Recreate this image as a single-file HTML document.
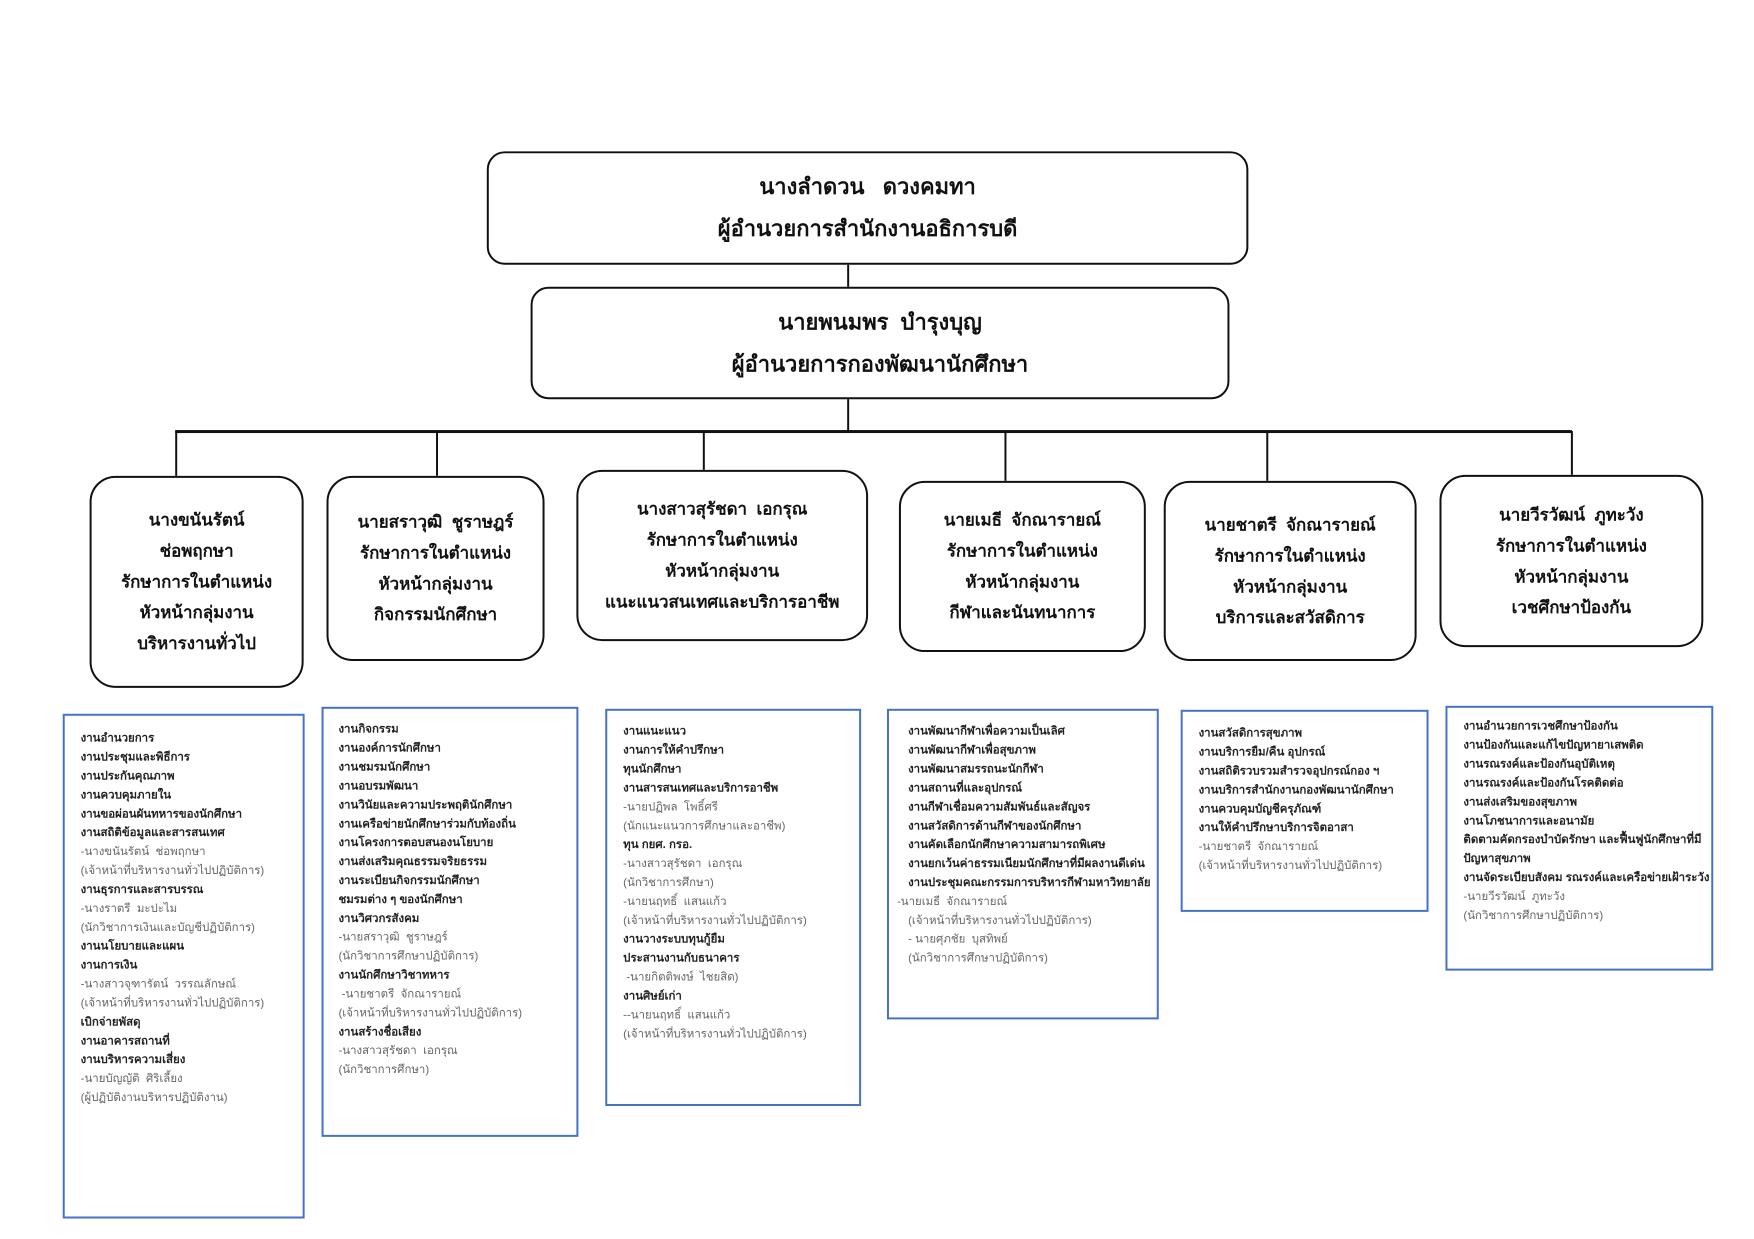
<!DOCTYPE html>
<html><head><meta charset="utf-8"><style>
body{margin:0;width:1754px;height:1239px;background:#fff;position:relative;overflow:hidden;font-family:"Liberation Sans","Noto Sans CJK SC",sans-serif;}
#w{position:absolute;left:0;top:0;width:1754px;height:1239px;transform:scale(0.9955);transform-origin:0 0;}
.n{position:absolute;border:2.5px solid #111;border-radius:26px;box-sizing:border-box;display:flex;flex-direction:column;justify-content:center;align-items:center;text-align:center;font-weight:bold;color:#111;}
.top{font-size:22px;line-height:42px;border-radius:18px;}
.s{font-size:17px;line-height:31px;}
.l{position:absolute;background:#111;}
.b{position:absolute;border:2px solid #4472c4;box-sizing:border-box;padding:14px 0 0 14px;font-size:11.5px;line-height:19px;color:#222;}
.b div{white-space:nowrap;font-weight:bold;}
.b .g{font-weight:normal;color:#666;}
</style></head><body><div id="w">
<div class="n top" style="left:489px;top:152px;width:765px;height:114px;"><div>นางลำดวน &nbsp; ดวงคมทา</div><div>ผู้อำนวยการสำนักงานอธิการบดี</div></div>
<div class="n top" style="left:533px;top:288px;width:702px;height:113px;"><div>นายพนมพร &nbsp;บำรุงบุญ</div><div>ผู้อำนวยการกองพัฒนานักศึกษา</div></div>
<div class="l" style="left:851px;top:266px;width:2px;height:22px;"></div>
<div class="l" style="left:851px;top:401px;width:2px;height:32px;"></div>
<div class="l" style="left:176px;top:432px;width:1403px;height:3px;"></div>
<div class="l" style="left:176px;top:433px;width:2px;height:45px;"></div>
<div class="l" style="left:438px;top:433px;width:2px;height:45px;"></div>
<div class="l" style="left:706px;top:433px;width:2px;height:39px;"></div>
<div class="l" style="left:1009px;top:433px;width:2px;height:50px;"></div>
<div class="l" style="left:1272px;top:433px;width:2px;height:50px;"></div>
<div class="l" style="left:1578px;top:433px;width:2px;height:44px;"></div>

<div class="n s" style="left:90px;top:478px;width:215px;height:213px;"><div>นางขนันรัตน์</div><div>ช่อพฤกษา</div><div>รักษาการในตำแหน่ง</div><div>หัวหน้ากลุ่มงาน</div><div>บริหารงานทั่วไป</div></div>
<div class="n s" style="left:328px;top:478px;width:219px;height:186px;"><div>นายสราวุฒิ &nbsp;ชูราษฎร์</div><div>รักษาการในตำแหน่ง</div><div>หัวหน้ากลุ่มงาน</div><div>กิจกรรมนักศึกษา</div></div>
<div class="n s" style="left:579px;top:472px;width:293px;height:172px;"><div>นางสาวสุรัชดา &nbsp;เอกรุณ</div><div>รักษาการในตำแหน่ง</div><div>หัวหน้ากลุ่มงาน</div><div>แนะแนวสนเทศและบริการอาชีพ</div></div>
<div class="n s" style="left:903px;top:483px;width:248px;height:172px;"><div>นายเมธี &nbsp;จักณารายณ์</div><div>รักษาการในตำแหน่ง</div><div>หัวหน้ากลุ่มงาน</div><div>กีฬาและนันทนาการ</div></div>
<div class="n s" style="left:1169px;top:483px;width:254px;height:181px;"><div>นายชาตรี &nbsp;จักณารายณ์</div><div>รักษาการในตำแหน่ง</div><div>หัวหน้ากลุ่มงาน</div><div>บริการและสวัสดิการ</div></div>
<div class="n s" style="left:1446px;top:477px;width:265px;height:173px;"><div>นายวีรวัฒน์ &nbsp;ภูทะวัง</div><div>รักษาการในตำแหน่ง</div><div>หัวหน้ากลุ่มงาน</div><div>เวชศึกษาป้องกัน</div></div>

<div class="b" style="left:63px;top:717px;width:243px;height:507px;padding-left:16px;">
<div>งานอำนวยการ</div><div>งานประชุมและพิธีการ</div><div>งานประกันคุณภาพ</div><div>งานควบคุมภายใน</div><div>งานขอผ่อนผันทหารของนักศึกษา</div><div>งานสถิติข้อมูลและสารสนเทศ</div><div class="g">-นางขนันรัตน์ &nbsp;ช่อพฤกษา</div><div class="g">(เจ้าหน้าที่บริหารงานทั่วไปปฏิบัติการ)</div><div>งานธุรการและสารบรรณ</div><div class="g">-นางราตรี &nbsp;มะปะไม</div><div class="g">(นักวิชาการเงินและบัญชีปฏิบัติการ)</div><div>งานนโยบายและแผน</div><div>งานการเงิน</div><div class="g">-นางสาวจุฑารัตน์ &nbsp;วรรณลักษณ์</div><div class="g">(เจ้าหน้าที่บริหารงานทั่วไปปฏิบัติการ)</div><div>เบิกจ่ายพัสดุ</div><div>งานอาคารสถานที่</div><div>งานบริหารความเสี่ยง</div><div class="g">-นายบัญญัติ &nbsp;ศิริเลี้ยง</div><div class="g">(ผู้ปฏิบัติงานบริหารปฏิบัติงาน)</div>
</div>
<div class="b" style="left:323px;top:710px;width:258px;height:432px;padding-left:15px;padding-top:12px;">
<div>งานกิจกรรม</div><div>งานองค์การนักศึกษา</div><div>งานชมรมนักศึกษา</div><div>งานอบรมพัฒนา</div><div>งานวินัยและความประพฤตินักศึกษา</div><div>งานเครือข่ายนักศึกษาร่วมกับท้องถิ่น</div><div>งานโครงการตอบสนองนโยบาย</div><div>งานส่งเสริมคุณธรรมจริยธรรม</div><div>งานระเบียนกิจกรรมนักศึกษา</div><div>ชมรมต่าง ๆ ของนักศึกษา</div><div>งานวิศวกรสังคม</div><div class="g">-นายสราวุฒิ &nbsp;ชูราษฎร์</div><div class="g">(นักวิชาการศึกษาปฏิบัติการ)</div><div>งานนักศึกษาวิชาทหาร</div><div class="g">&nbsp;-นายชาตรี &nbsp;จักณารายณ์</div><div class="g">(เจ้าหน้าที่บริหารงานทั่วไปปฏิบัติการ)</div><div>งานสร้างชื่อเสียง</div><div class="g">-นางสาวสุรัชดา &nbsp;เอกรุณ</div><div class="g">(นักวิชาการศึกษา)</div>
</div>
<div class="b" style="left:608px;top:712px;width:257px;height:399px;padding-left:16px;padding-top:12px;">
<div>งานแนะแนว</div><div>งานการให้คำปรึกษา</div><div>ทุนนักศึกษา</div><div>งานสารสนเทศและบริการอาชีพ</div><div class="g">-นายปฏิพล &nbsp;โพธิ์ศรี</div><div class="g">(นักแนะแนวการศึกษาและอาชีพ)</div><div>ทุน กยศ. กรอ.</div><div class="g">-นางสาวสุรัชดา &nbsp;เอกรุณ</div><div class="g">(นักวิชาการศึกษา)</div><div class="g">-นายนฤทธิ์ &nbsp;แสนแก้ว</div><div class="g">(เจ้าหน้าที่บริหารงานทั่วไปปฏิบัติการ)</div><div>งานวางระบบทุนกู้ยืม</div><div>ประสานงานกับธนาคาร</div><div class="g">&nbsp;-นายกิตติพงษ์ &nbsp;ไชยสิด)</div><div>งานศิษย์เก่า</div><div class="g">--นายนฤทธิ์ &nbsp;แสนแก้ว</div><div class="g">(เจ้าหน้าที่บริหารงานทั่วไปปฏิบัติการ)</div>
</div>
<div class="b" style="left:891px;top:712px;width:273px;height:312px;padding-left:16px;padding-top:12px;">
<div>&nbsp;งานพัฒนากีฬาเพื่อความเป็นเลิศ</div><div>&nbsp;งานพัฒนากีฬาเพื่อสุขภาพ</div><div>&nbsp;งานพัฒนาสมรรถนะนักกีฬา</div><div>&nbsp;งานสถานที่และอุปกรณ์</div><div>&nbsp;งานกีฬาเชื่อมความสัมพันธ์และสัญจร</div><div>&nbsp;งานสวัสดิการด้านกีฬาของนักศึกษา</div><div>&nbsp;งานคัดเลือกนักศึกษาความสามารถพิเศษ</div><div>&nbsp;งานยกเว้นค่าธรรมเนียมนักศึกษาที่มีผลงานดีเด่น</div><div>&nbsp;งานประชุมคณะกรรมการบริหารกีฬามหาวิทยาลัย</div><div class="g" style="margin-left:-8px">-นายเมธี &nbsp;จักณารายณ์</div><div class="g">&nbsp;(เจ้าหน้าที่บริหารงานทั่วไปปฏิบัติการ)</div><div class="g">&nbsp;- นายศุภชัย &nbsp;บุสทิพย์</div><div class="g">&nbsp;(นักวิชาการศึกษาปฏิบัติการ)</div>
</div>
<div class="b" style="left:1186px;top:713px;width:249px;height:203px;padding-left:16px;padding-top:13px;">
<div>งานสวัสดิการสุขภาพ</div><div>งานบริการยืม/คืน อุปกรณ์</div><div>งานสถิติรวบรวมสำรวจอุปกรณ์กอง ฯ</div><div>งานบริการสำนักงานกองพัฒนานักศึกษา</div><div>งานควบคุมบัญชีครุภัณฑ์</div><div>งานให้คำปรึกษาบริการจิตอาสา</div><div class="g">-นายชาตรี &nbsp;จักณารายณ์</div><div class="g">(เจ้าหน้าที่บริหารงานทั่วไปปฏิบัติการ)</div>
</div>
<div class="b" style="left:1452px;top:709px;width:269px;height:266px;padding-left:16px;padding-top:10px;">
<div>งานอำนวยการเวชศึกษาป้องกัน</div><div>งานป้องกันและแก้ไขปัญหายาเสพติด</div><div>งานรณรงค์และป้องกันอุบัติเหตุ</div><div>งานรณรงค์และป้องกันโรคติดต่อ</div><div>งานส่งเสริมของสุขภาพ</div><div>งานโภชนาการและอนามัย</div><div>ติดตามคัดกรองบำบัดรักษา และฟื้นฟูนักศึกษาที่มี</div><div>ปัญหาสุขภาพ</div><div>งานจัดระเบียบสังคม รณรงค์และเครือข่ายเฝ้าระวัง</div><div class="g">-นายวีรวัฒน์ &nbsp;ภูทะวัง</div><div class="g">(นักวิชาการศึกษาปฏิบัติการ)</div>
</div>
</div></body></html>
